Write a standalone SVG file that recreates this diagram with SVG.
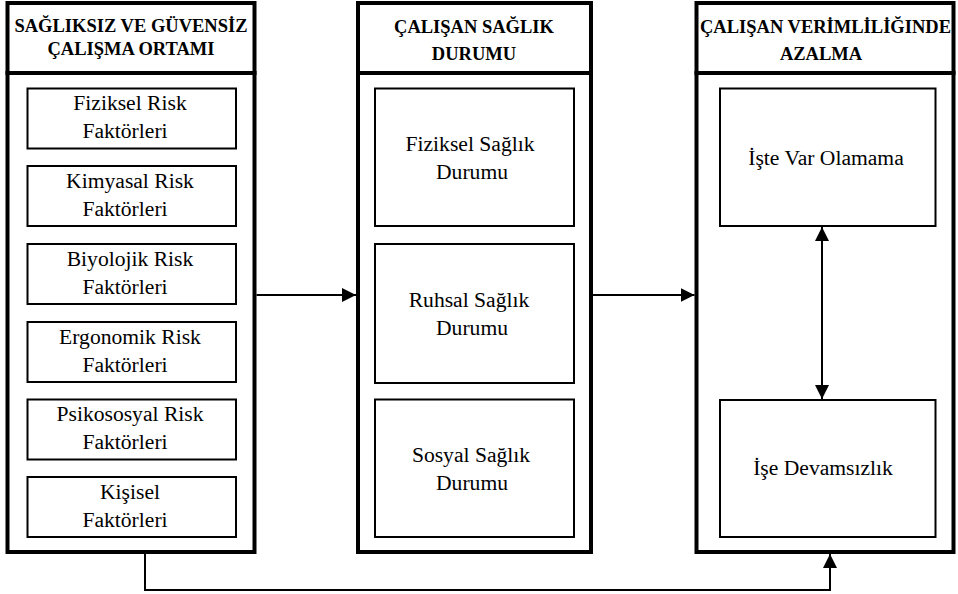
<svg xmlns="http://www.w3.org/2000/svg" width="958" height="594" viewBox="0 0 958 594">
<style>
.panel{fill:#fff;stroke:#000;stroke-width:4}
.box{fill:#fff;stroke:#000;stroke-width:2}
.hd{font-family:"Liberation Serif","Times New Roman",serif;font-weight:bold;font-size:18.5px;fill:#000}
.tx{font-family:"Liberation Serif","Times New Roman",serif;font-size:21.6px;fill:#000}
.ln{fill:none;stroke:#000;stroke-width:2}
</style>
<defs>
<marker id="ah" viewBox="0 0 14 14" refX="14" refY="7" markerWidth="14" markerHeight="14" markerUnits="userSpaceOnUse" orient="auto-start-reverse">
<path d="M0,0 L14,7 L0,14 Z" fill="#000"/>
</marker>
</defs>
<g id="panel-left">
<rect class="panel" x="7.5" y="3" width="247" height="70"/>
<rect class="panel" x="7.5" y="73" width="247" height="479"/>
<text class="hd" text-anchor="middle" x="131" y="32">SAĞLIKSIZ VE GÜVENSİZ</text>
<text class="hd" text-anchor="middle" x="131" y="55">ÇALIŞMA ORTAMI</text>
</g>
<g id="node-fiziksel-risk">
<rect class="box" x="27.5" y="88.5" width="208.5" height="60"/>
<text class="tx" text-anchor="middle" x="130" y="110">Fiziksel Risk</text>
<text class="tx" text-anchor="middle" x="125" y="138">Faktörleri</text>
</g>
<g id="node-kimyasal-risk">
<rect class="box" x="27.5" y="166" width="208.5" height="60"/>
<text class="tx" text-anchor="middle" x="130" y="187.5">Kimyasal Risk</text>
<text class="tx" text-anchor="middle" x="125" y="215.5">Faktörleri</text>
</g>
<g id="node-biyolojik-risk">
<rect class="box" x="27.5" y="244" width="208.5" height="60"/>
<text class="tx" text-anchor="middle" x="130" y="265.5">Biyolojik Risk</text>
<text class="tx" text-anchor="middle" x="125" y="293.5">Faktörleri</text>
</g>
<g id="node-ergonomik-risk">
<rect class="box" x="27.5" y="322" width="208.5" height="60"/>
<text class="tx" text-anchor="middle" x="130" y="343.5">Ergonomik Risk</text>
<text class="tx" text-anchor="middle" x="125" y="371.5">Faktörleri</text>
</g>
<g id="node-psikososyal-risk">
<rect class="box" x="27.5" y="399.5" width="208.5" height="60"/>
<text class="tx" text-anchor="middle" x="130" y="421">Psikososyal Risk</text>
<text class="tx" text-anchor="middle" x="125" y="449">Faktörleri</text>
</g>
<g id="node-kisisel">
<rect class="box" x="27.5" y="477" width="208.5" height="60"/>
<text class="tx" text-anchor="middle" x="130" y="498.5">Kişisel</text>
<text class="tx" text-anchor="middle" x="125" y="526.5">Faktörleri</text>
</g>
<g id="panel-middle">
<rect class="panel" x="358" y="3" width="233" height="70"/>
<rect class="panel" x="358" y="73" width="233" height="479"/>
<text class="hd" text-anchor="middle" x="474" y="32.5">ÇALIŞAN SAĞLIK</text>
<text class="hd" text-anchor="middle" x="474" y="60">DURUMU</text>
</g>
<g id="node-fiziksel-saglik">
<rect class="box" x="375" y="88.5" width="199" height="137.5"/>
<text class="tx" text-anchor="middle" x="470" y="151">Fiziksel Sağlık</text>
<text class="tx" text-anchor="middle" x="472" y="179">Durumu</text>
</g>
<g id="node-ruhsal-saglik">
<rect class="box" x="375" y="244" width="199" height="139"/>
<text class="tx" text-anchor="middle" x="469" y="307">Ruhsal Sağlık</text>
<text class="tx" text-anchor="middle" x="472" y="335">Durumu</text>
</g>
<g id="node-sosyal-saglik">
<rect class="box" x="375" y="399.5" width="199" height="137.5"/>
<text class="tx" text-anchor="middle" x="471" y="462">Sosyal Sağlık</text>
<text class="tx" text-anchor="middle" x="472" y="490">Durumu</text>
</g>
<g id="panel-right">
<text class="hd" x="700" y="33">ÇALIŞAN VERİMLİLİĞINDE</text>
<rect class="panel" x="696.5" y="3" width="257" height="70" style="fill:none"/>
<rect class="panel" x="696.5" y="73" width="257" height="479"/>
<text class="hd" text-anchor="middle" x="821" y="60">AZALMA</text>
</g>
<g id="node-iste-var-olamama">
<rect class="box" x="720" y="88.5" width="215.5" height="137.5"/>
<text class="tx" text-anchor="middle" x="826" y="165">İşte Var Olamama</text>
</g>
<g id="node-ise-devamsizlik">
<rect class="box" x="720" y="400" width="215.5" height="137"/>
<text class="tx" text-anchor="middle" x="823" y="475">İşe Devamsızlık</text>
</g>
<g id="connectors">
<line class="ln" x1="256.5" y1="295" x2="356" y2="295" marker-end="url(#ah)"/>
<line class="ln" x1="593" y1="295" x2="694.5" y2="295" marker-end="url(#ah)"/>
<line class="ln" x1="822" y1="227" x2="822" y2="399" marker-start="url(#ah)" marker-end="url(#ah)"/>
<polyline class="ln" points="145,554 145,590 830,590 830,554" marker-end="url(#ah)"/>
</g>
</svg>
